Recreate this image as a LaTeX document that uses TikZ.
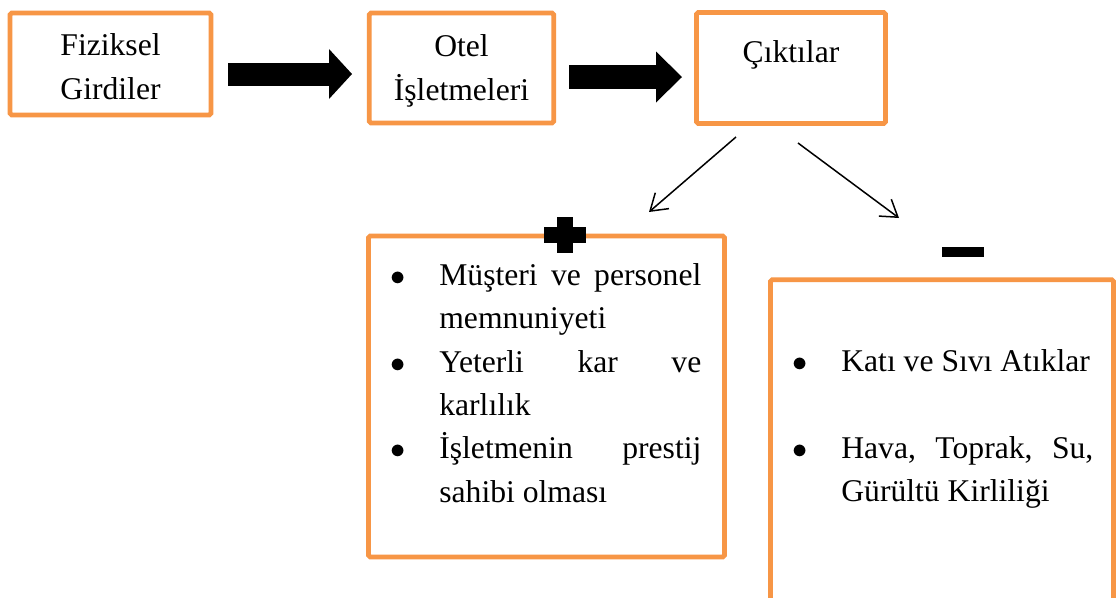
\documentclass[tikz,border=0pt]{standalone}
\usepackage{fontspec}
\setmainfont{Liberation Serif}
\usepackage{xcolor}
\usepackage{tikz}
\usetikzlibrary{arrows.meta}

\definecolor{turuncu}{HTML}{F79646}
\newcommand{\madde}{\noindent\llap{$\bullet$\hspace{1.05em}}}

\begin{document}
\begin{tikzpicture}[every node/.style={font=\fontsize{18}{24.7}\selectfont}]
	\useasboundingbox[fill=white] (0,0) rectangle (22.36,-11.94);
	
	\begin{scope}[
		kutu/.style={draw=turuncu, line width=0.094cm, rounded corners=1pt, inner sep=0pt},
		liste/.style={anchor=north west, align=justify, inner sep=0pt}]
		\node[kutu, align=center, minimum width=4.02cm, minimum height=2.04cm] (G) at (2.21, -1.28) {\rule{0pt}{0.54cm}Fiziksel\\Girdiler};
		\node[kutu, align=center, minimum width=3.69cm, minimum height=2.2cm] (O) at (9.23, -1.36) {\rule{0pt}{0.56cm}Otel\\İşletmeleri};
		\node[kutu, minimum width=3.78cm, text height=1.0cm, text depth=1.22cm] (C) at (15.82, -1.36) {Çıktılar};
		
		\node[kutu, minimum width=7.12cm, minimum height=6.42cm] (A) at (10.93, -7.93) {};
		\node[kutu, minimum width=6.86cm, minimum height=7.61cm] (E) at (18.84, -9.4) {};
		
		\node[liste, text width=5.24cm] (A1) at (8.78, -5.0) {\madde\rule{0pt}{0.7cm}Müşteri ve personel\linebreak memnuniyeti\par
			\madde Yeterli kar ve\linebreak karlılık\par
			\madde İşletmenin prestij\linebreak sahibi olması};
		\node[liste, text width=5.04cm] (E1) at (16.82, -6.72) {\madde\rule{0pt}{0.7cm}Katı ve Sıvı Atıklar\par\vspace{24.7pt}
			\madde Hava, Toprak, Su,\linebreak Gürültü Kirliliği};
	\end{scope}
	
	\coordinate (B1) at (4.56, -1.48);
	\coordinate (B2) at (7.04, -1.48);
	\coordinate (B3) at (11.38, -1.54);
	\coordinate (B4) at (13.64, -1.54);
	
	\coordinate (C1) at (14.72, -2.74);
	\coordinate (C2) at (12.98, -4.24);
	\coordinate (C3) at (15.96, -2.86);
	\coordinate (C4) at (17.98, -4.36);
	
	\draw[line width=0.46cm, -{Triangle[length=0.46cm, width=1.0cm, line width=0pt]}] (B1) -- (B2);
	\draw[line width=0.48cm, -{Triangle[length=0.52cm, width=1.02cm, line width=0pt]}] (B3) -- (B4);
	
	\draw[line width=0.03cm, -{Straight Barb[length=0.32cm, width=0.42cm]}] (C1) -- (C2);
	\draw[line width=0.03cm, -{Straight Barb[length=0.32cm, width=0.42cm]}] (C3) -- (C4);
	
	\fill (10.88, -4.54) rectangle (11.72, -4.86);
	\fill (11.14, -4.34) rectangle (11.46, -5.06);
	\fill (18.84, -4.94) rectangle (19.68, -5.14);
\end{tikzpicture}
\end{document}
